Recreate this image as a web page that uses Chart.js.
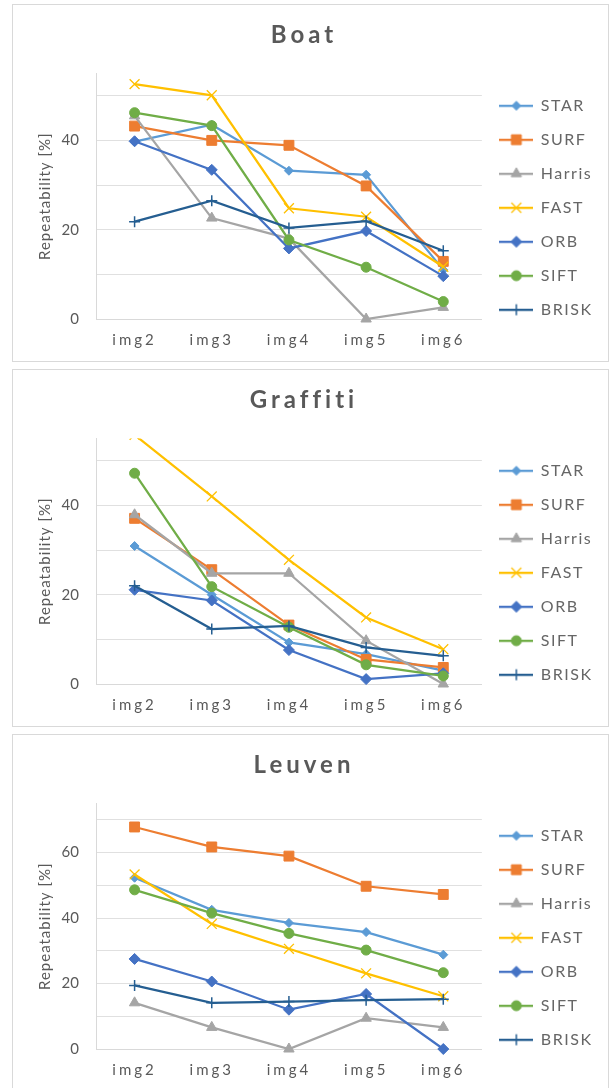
<!DOCTYPE html>
<html>
<head>
<meta charset="utf-8">
<title>Repeatability</title>
<script src="https://cdn.jsdelivr.net/npm/chart.js"></script>
<style>
  html, body { margin: 0; padding: 0; background: #fff; overflow: hidden; }
  .panel {
    position: absolute;
    left: 12px;
    width: 595px;
    height: 356px;
    border: 1px solid #d9d9d9;
    background: #fff;
  }
  .panel canvas { display: block; }
</style>
</head>
<body>
<div class="panel" style="top:4px"><canvas id="boatChart" width="595" height="356"></canvas></div>
<div class="panel" style="top:369px"><canvas id="graffitiChart" width="595" height="356"></canvas></div>
<div class="panel" style="top:734px"><canvas id="leuvenChart" width="595" height="356"></canvas></div>
<script>
// === Data ===
const categories = ['img2', 'img3', 'img4', 'img5', 'img6'];
const methods = ['STAR', 'SURF', 'Harris', 'FAST', 'ORB', 'SIFT', 'BRISK'];

// rows follow the order of methods
const boatValues = [
  [39.7, 43.5, 33.2, 32.3, 11.0],   // STAR
  [43.2, 40.0, 38.9, 29.8, 12.9],   // SURF
  [45.5, 22.6, 18.0, 0.0, 2.6],     // Harris
  [52.6, 50.1, 24.8, 22.9, 11.7],   // FAST
  [39.8, 33.4, 15.8, 19.7, 9.6],    // ORB
  [46.2, 43.3, 17.7, 11.6, 3.9],    // SIFT
  [21.8, 26.5, 20.4, 21.9, 15.3]    // BRISK
];
const graffitiValues = [
  [30.9, 20.0, 9.3, 6.7, 3.0],
  [37.1, 25.6, 13.2, 5.5, 3.7],
  [37.9, 24.8, 24.8, 9.7, 0.0],
  [55.8, 42.0, 27.8, 14.9, 7.8],
  [21.1, 18.7, 7.6, 1.1, 2.4],
  [47.2, 21.8, 12.7, 4.3, 1.8],
  [22.0, 12.3, 13.0, 8.2, 6.3]
];
const leuvenValues = [
  [52.3, 42.5, 38.5, 35.7, 28.8],
  [67.8, 61.7, 58.9, 49.7, 47.2],
  [14.1, 6.6, 0.0, 9.4, 6.6],
  [53.3, 38.2, 30.6, 23.1, 16.1],
  [27.5, 20.6, 12.0, 16.8, 0.0],
  [48.6, 41.5, 35.3, 30.2, 23.3],
  [19.4, 14.1, 14.5, 14.9, 15.2]
];

const yAxisTitle = 'Repeatability [%]';
const gridStep = 10;   // gridlines every 10
const labelStep = 20;  // labels 0, 20, 40, ...

// === Styles ===
const TEXT = '#595959';
const FONT = 'Lato, "Open Sans", sans-serif';
const seriesStyle = [
  { color: '#5B9BD5', pointStyle: 'rectRot',  radius: 4.5, pw: 1 },
  { color: '#ED7D31', pointStyle: 'rect',     radius: 7,   pw: 1 },
  { color: '#A5A5A5', pointStyle: 'triangle', radius: 6,   pw: 1 },
  { color: '#FFC000', pointStyle: 'crossRot', radius: 7,   pw: 1.3 },
  { color: '#4472C4', pointStyle: 'rectRot',  radius: 5.5, pw: 1 },
  { color: '#70AD47', pointStyle: 'circle',   radius: 5,   pw: 1 },
  { color: '#255E91', pointStyle: 'cross',    radius: 5.5, pw: 1.5 }
];

// legend symbol: short line with the marker in the middle
function legendIcon(st) {
  const c = document.createElement('canvas');
  c.width = 34; c.height = 16;
  const ctx = c.getContext('2d');
  ctx.strokeStyle = st.color;
  ctx.lineWidth = 2.25;
  ctx.beginPath(); ctx.moveTo(0, 8); ctx.lineTo(34, 8); ctx.stroke();
  ctx.fillStyle = st.color;
  ctx.lineWidth = st.pw;
  Chart.helpers.drawPoint(ctx, { pointStyle: st.pointStyle, radius: st.radius, borderWidth: st.pw, rotation: 0 }, 17, 8);
  return c;
}
const legendIcons = seriesStyle.map(legendIcon);

// letter spacing for some text parts (title, x labels ...)
function wrapSpacing(obj, fn, spacing) {
  if (!obj || obj['_sp_' + fn]) return;
  const orig = obj[fn];
  obj[fn] = function (...args) {
    const ctx = this.ctx;
    ctx.letterSpacing = spacing;
    const r = orig.apply(this, args);
    ctx.letterSpacing = '0px';
    return r;
  };
  obj['_sp_' + fn] = true;
}
const spacingPlugin = {
  id: 'spacing',
  beforeDraw(chart) {
    wrapSpacing(chart.titleBlock, 'draw', '4px');
    wrapSpacing(chart.legend, 'draw', '1.5px');
    wrapSpacing(chart.scales.x, 'drawLabels', '3px');
    wrapSpacing(chart.scales.y, 'drawTitle', '1px');
  }
};

function makeChart(id, title, values, yMax) {
  const n = values.length;
  const datasets = values.map((row, i) => {
    const st = seriesStyle[i];
    return {
      label: methods[i],
      data: row,
      borderColor: st.color,
      backgroundColor: st.color,
      borderWidth: 2.25,
      pointStyle: st.pointStyle,
      pointRadius: st.radius,
      pointBorderWidth: st.pw,
      pointBackgroundColor: st.color,
      pointBorderColor: st.color,
      tension: 0,
      fill: false,
      order: n - i,   // later series drawn on top
      clip: { left: 10, right: 10, top: 0, bottom: 10 }
    };
  });

  return new Chart(document.getElementById(id).getContext('2d'), {
    type: 'line',
    data: { labels: categories, datasets: datasets },
    plugins: [spacingPlugin],
    options: {
      responsive: false,
      animation: false,
      layout: { padding: { left: 0, right: 13, top: 0, bottom: 0 } },
      plugins: {
        title: {
          display: true,
          text: title,
          color: TEXT,
          font: { family: FONT, size: 24, weight: 'bold' },
          padding: { top: 15.6, bottom: 24 }
        },
        legend: {
          position: 'right',
          // empty legend title only pushes the entries down a little
          title: { display: true, text: '', font: { size: 10 }, padding: { top: 37.4, bottom: 0 } },
          labels: {
            color: TEXT,
            font: { family: FONT, size: 16 },
            usePointStyle: true,
            pointStyleWidth: 33,
            padding: 18,
            generateLabels: (chart) => chart.data.datasets.map((ds, i) => ({
              text: ds.label,
              pointStyle: legendIcons[i],
              fillStyle: ds.borderColor,
              strokeStyle: ds.borderColor,
              lineWidth: 0,
              hidden: !chart.isDatasetVisible(i),
              datasetIndex: i
            }))
          }
        },
        tooltip: { enabled: false }
      },
      scales: {
        x: {
          offset: true,
          grid: { display: false, drawTicks: false },
          border: { display: true, color: '#d9d9d9', width: 1 },
          ticks: { color: TEXT, font: { family: FONT, size: 15 }, padding: 12, maxRotation: 0 }
        },
        y: {
          min: 0,
          max: yMax,
          afterFit: (scale) => { scale.width = 83; },
          grid: { color: '#e0e0e0', drawTicks: false },
          border: { display: true, color: '#d9d9d9', width: 1 },
          ticks: {
            stepSize: gridStep,
            includeBounds: false,
            padding: 17,
            color: TEXT,
            font: { family: FONT, size: 15 },
            callback: (v) => (v % labelStep === 0 ? v : '')
          },
          title: {
            display: true,
            text: yAxisTitle,
            color: TEXT,
            font: { family: FONT, size: 15 },
            padding: { top: 23, bottom: 0 }
          }
        }
      }
    }
  });
}

makeChart('boatChart', 'Boat', boatValues, 55);
makeChart('graffitiChart', 'Graffiti', graffitiValues, 55);
makeChart('leuvenChart', 'Leuven', leuvenValues, 75);
</script>
</body>
</html>
